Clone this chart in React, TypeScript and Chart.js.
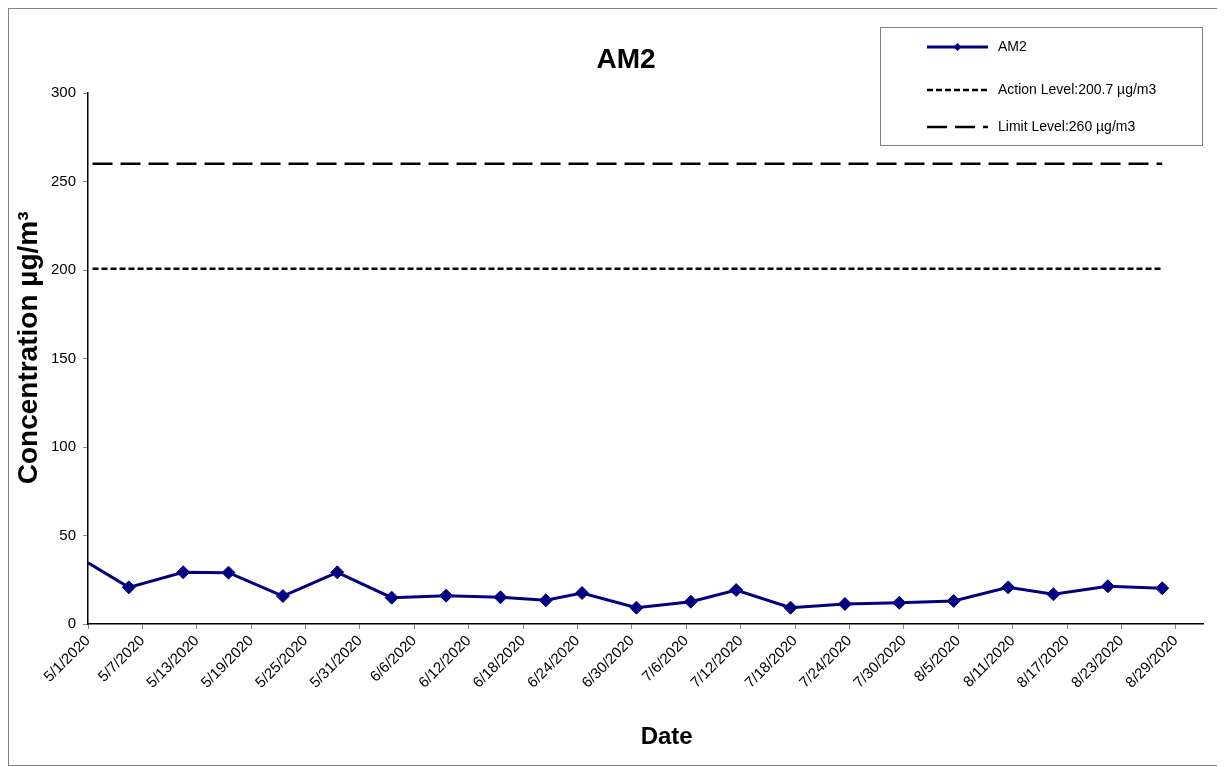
import React, { useEffect, useRef } from 'react';
import { Chart, registerables } from 'chart.js';

Chart.register(...registerables);

const chartTitle = 'AM2';
const xAxisTitle = 'Date';
const yAxisTitle = 'Concentration µg/m³';

// sample positions, in days after 5/1/2020
const sampleDays = [0, 4.5, 10.5, 15.5, 21.5, 27.5, 33.5, 39.5, 45.5, 50.5, 54.5, 60.5, 66.5, 71.5, 77.5, 83.5, 89.5, 95.5, 101.5, 106.5, 112.5, 118.5];
const am2Values = [34.6, 20.7, 29.2, 29.0, 15.8, 29.2, 14.9, 16.0, 15.1, 13.4, 17.5, 9.2, 12.6, 19.2, 9.2, 11.3, 12.0, 13.0, 20.7, 16.8, 21.3, 20.2];

const actionLevel = 200.7;
const limitLevel = 260;
const levelSpanDays = [0.5, 118.5];

const seriesLabels = ['AM2', 'Action Level:200.7 µg/m3', 'Limit Level:260 µg/m3'];

const xTickDays = [0, 6, 12, 18, 24, 30, 36, 42, 48, 54, 60, 66, 72, 78, 84, 90, 96, 102, 108, 114, 120];
const xTickLabels = ['5/1/2020', '5/7/2020', '5/13/2020', '5/19/2020', '5/25/2020', '5/31/2020', '6/6/2020', '6/12/2020', '6/18/2020', '6/24/2020', '6/30/2020', '7/6/2020', '7/12/2020', '7/18/2020', '7/24/2020', '7/30/2020', '8/5/2020', '8/11/2020', '8/17/2020', '8/23/2020', '8/29/2020'];
const xMin = 0;
const xMax = 123;
const yMin = 0;
const yMax = 300;
const yStep = 50;

const NAVY = '#000080';
const FONT = '"Liberation Sans", Arial, Helvetica, sans-serif';

const textPlugin = {
  id: 'customText',
  afterDraw(chart: any) {
    const { ctx, chartArea } = chart;
    ctx.save();
    ctx.fillStyle = '#000';
    // Title
    ctx.font = `bold 28px ${FONT}`;
    ctx.textAlign = 'center';
    ctx.textBaseline = 'alphabetic';
    ctx.fillText(chartTitle, 617, 59);
    // X axis title
    ctx.font = `bold 24px ${FONT}`;
    ctx.fillText(xAxisTitle, chartArea.left + (chartArea.right - chartArea.left) * 0.519, 735);
    // Y axis title
    ctx.save();
    ctx.translate(28, chartArea.top + (chartArea.bottom - chartArea.top) * 0.48);
    ctx.rotate(-Math.PI / 2);
    ctx.font = `bold 28px ${FONT}`;
    ctx.textAlign = 'center';
    ctx.fillText(yAxisTitle, 0, 0);
    ctx.restore();

    // Legend
    const bx = 871, by = 18, bw = 322, bh = 118;
    ctx.strokeStyle = '#808080';
    ctx.lineWidth = 1;
    ctx.strokeRect(bx + 0.5, by + 0.5, bw, bh);
    const rows = [38, 81, 118];
    const x0 = 918, x1 = 979;
    chart.data.datasets.forEach((ds: any, i: number) => {
      const y = rows[i];
      ctx.save();
      ctx.strokeStyle = ds.borderColor;
      ctx.lineWidth = ds.borderWidth;
      ctx.setLineDash(ds.borderDash || []);
      ctx.beginPath();
      ctx.moveTo(x0, y);
      ctx.lineTo(x1, y);
      ctx.stroke();
      ctx.restore();
      if (i === 0) {
        const cx = (x0 + x1) / 2, r = 4;
        ctx.fillStyle = NAVY;
        ctx.beginPath();
        ctx.moveTo(cx - r, y);
        ctx.lineTo(cx, y - r);
        ctx.lineTo(cx + r, y);
        ctx.lineTo(cx, y + r);
        ctx.closePath();
        ctx.fill();
      }
      ctx.fillStyle = '#000';
      ctx.font = `14px ${FONT}`;
      ctx.textAlign = 'left';
      ctx.textBaseline = 'middle';
      ctx.fillText(seriesLabels[i], 989, y);
    });
    ctx.restore();
  },
};

export default function App() {
  const canvasRef = useRef<HTMLCanvasElement | null>(null);

  useEffect(() => {
    if (!canvasRef.current) return;
    const am2Data = sampleDays.map((d, i) => ({ x: d, y: am2Values[i] }));
    const actionData = levelSpanDays.map((d) => ({ x: d, y: actionLevel }));
    const limitData = levelSpanDays.map((d) => ({ x: d, y: limitLevel }));
    const chart = new Chart(canvasRef.current, {
      type: 'line',
      data: {
        datasets: [
          {
            label: seriesLabels[0],
            data: am2Data,
            borderColor: NAVY,
            backgroundColor: NAVY,
            borderWidth: 3,
            pointStyle: 'rectRot',
            pointRadius: am2Data.map((_, i) => (i === 0 ? 0 : 6.5)),
            pointBorderWidth: 1,
            pointBackgroundColor: NAVY,
            pointBorderColor: NAVY,
            tension: 0,
          },
          {
            label: seriesLabels[1],
            data: actionData,
            borderColor: '#000',
            borderWidth: 2.5,
            borderDash: [6, 3],
            pointRadius: 0,
          },
          {
            label: seriesLabels[2],
            data: limitData,
            borderColor: '#000',
            borderWidth: 2.5,
            borderDash: [20, 8],
            pointRadius: 0,
          },
        ],
      },
      options: {
        responsive: false,
        animation: false,
        events: [],
        layout: { padding: { top: 84, right: 14, bottom: 0, left: 0 } },
        plugins: {
          legend: { display: false },
          title: { display: false },
          tooltip: { enabled: false },
        },
        scales: {
          x: {
            type: 'linear',
            min: xMin,
            max: xMax,
            afterBuildTicks: (scale: any) => {
              scale.ticks = xTickDays.map((v) => ({ value: v }));
            },
            afterFit: (scale: any) => {
              scale.height = 141;
            },
            ticks: {
              autoSkip: false,
              maxRotation: 45,
              minRotation: 45,
              padding: 3,
              color: '#000',
              font: { family: FONT, size: 15 },
              callback: (value: any) => {
                const idx = xTickDays.indexOf(Number(value));
                return idx >= 0 ? xTickLabels[idx] : '';
              },
            },
            grid: {
              drawOnChartArea: false,
              drawTicks: true,
              tickLength: 5,
              tickColor: '#888',
            },
            border: { display: true, color: '#000', width: 1.5 },
          },
          y: {
            type: 'linear',
            min: yMin,
            max: yMax,
            ticks: {
              stepSize: yStep,
              padding: 7,
              color: '#000',
              font: { family: FONT, size: 15 },
            },
            afterFit: (scale: any) => {
              scale.width = 79;
            },
            grid: {
              drawOnChartArea: false,
              drawTicks: true,
              tickLength: 5,
              tickColor: '#888',
            },
            border: { display: true, color: '#000', width: 1.5 },
          },
        },
      },
      plugins: [textPlugin],
    });
    return () => chart.destroy();
  }, []);

  return (
    <div style={{ width: 1208, height: 756, border: '1px solid #808080', background: '#fff' }}>
      <canvas ref={canvasRef} width={1208} height={756} style={{ display: 'block' }} />
    </div>
  );
}
